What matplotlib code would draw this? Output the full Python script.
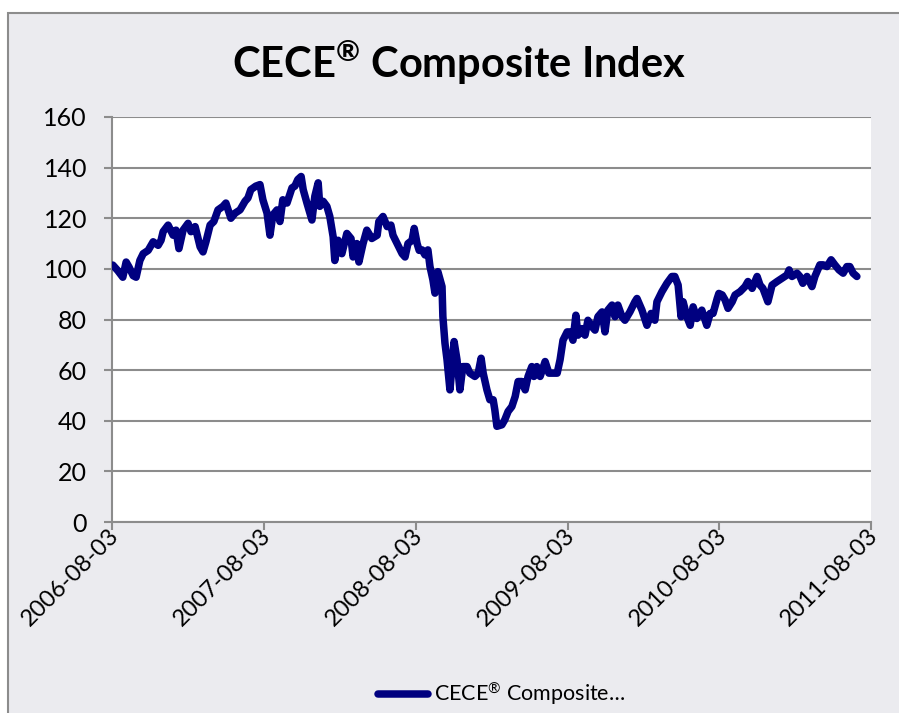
import numpy as np
import matplotlib
matplotlib.use("Agg")
import matplotlib.pyplot as plt
from matplotlib.patches import Rectangle
from matplotlib.transforms import ScaledTranslation

# ---- data ----
start_date = "2006-08-03"
days_since_start = [
    2, 14, 26, 34, 41, 51, 58, 67, 75, 87, 99, 111, 118, 123, 135, 147, 154, 161, 171, 183,
    190, 200, 212, 219, 226, 236, 245, 255, 267, 274, 286, 296, 308, 320, 327, 334, 346, 356,
    363, 373, 380, 387, 397, 404, 411, 421, 433, 440, 447, 455, 460, 469, 481, 488, 496, 500,
    508, 517, 524, 532, 536, 544, 553, 565, 575, 580, 589, 594, 604, 613, 625, 638, 642, 652,
    662, 671, 676, 686, 698, 705, 712, 722, 727, 734, 739, 746, 753, 760, 765, 772, 777, 784,
    794, 796, 801, 806, 813, 818, 823, 830, 837, 844, 854, 861, 873, 881, 888, 893, 902, 909,
    917, 921, 926, 938, 945, 953, 962, 970, 977, 986, 994, 1001, 1010, 1015, 1022, 1030, 1042,
    1051, 1061, 1071, 1078, 1085, 1095, 1102, 1109, 1116, 1121, 1131, 1138, 1145, 1155, 1162,
    1169, 1179, 1186, 1193, 1203, 1210, 1217, 1227, 1234, 1246, 1258, 1263, 1275, 1287, 1297,
    1306, 1311, 1323, 1335, 1347, 1354, 1362, 1369, 1374, 1383, 1391, 1398, 1407, 1419, 1431,
    1439, 1446, 1456, 1460, 1468, 1475, 1482, 1492, 1499, 1511, 1523, 1530, 1540, 1552, 1559,
    1566, 1578, 1588, 1600, 1612, 1624, 1629, 1636, 1648, 1655, 1662, 1672, 1684, 1691, 1703,
    1711, 1720, 1730, 1739, 1749, 1759, 1768, 1775, 1783, 1792,
]
index_values = [
    101.5, 99.3, 96.7, 102.7, 100.7, 97.3, 96.7, 103.3, 106, 107.3, 110.7, 109.3, 111.3, 114.7,
    117.3, 113.3, 115.3, 108, 115.3, 118, 114.7, 116.7, 108.7, 106.7, 110.7, 117.3, 118.7, 123.3,
    124.7, 126, 120, 122, 123.3, 126.7, 128, 131.3, 132.7, 133.3, 127.3, 122, 113.3, 121.3,
    123.3, 118.7, 127.3, 126, 132, 132.7, 135.3, 136.5, 131.3, 126, 119.3, 128.7, 134, 124.7,
    126.7, 124.7, 120.7, 112.7, 103.3, 111.3, 106, 114, 112, 104.7, 110, 102.7, 110, 115.3,
    112, 113.3, 118.7, 120.7, 116.7, 117.3, 113.3, 110, 106, 104.7, 110, 111.3, 116, 110,
    107.3, 107.5, 105.5, 107.5, 100.9, 95.7, 90.4, 98.9, 93, 81.2, 70.7, 64.1, 52.2, 61.4,
    71.3, 64.1, 52.2, 61.4, 61.4, 58.8, 57.5, 58.8, 64.7, 58.8, 52.2, 48.3, 48.3, 44.3, 37.8,
    38.4, 40.4, 43.7, 45.6, 49.6, 55.5, 55.5, 52.2, 57.5, 61.4, 57.5, 61.4, 57.5, 63.4, 58.8,
    58.8, 58.8, 64.1, 71.8, 75.1, 75.1, 71.8, 81.7, 73.8, 76.4, 73.8, 79.7, 77.1, 75.8, 81.1,
    83, 75.1, 83.7, 85.7, 81.1, 85.7, 81.1, 79.7, 83, 87, 88.3, 83.7, 77.7, 82.4, 79.7, 87,
    91, 94.3, 97, 97, 93.6, 81.1, 87, 81.1, 77.7, 85, 80.4, 83.7, 77.7, 82.4, 82.4, 88.3,
    90.3, 89.7, 87.7, 84.4, 87, 89.7, 91, 93, 95, 92.3, 97, 93.6, 92.3, 87, 93.6, 95, 96.3,
    97.6, 99.6, 97, 98.3, 97, 94.3, 97, 93, 97, 101.6, 101.6, 100.9, 103.6, 101.6, 99.6,
    98.3, 100.9, 100.9, 98.3, 97,
]
x_tick_labels = ["2006-08-03", "2007-08-03", "2008-08-03", "2009-08-03", "2010-08-03", "2011-08-03"]
y_ticks = [0, 20, 40, 60, 80, 100, 120, 140, 160]
series_name = r"CECE$^{\mathregular{®}}$ Composite…"
chart_title = r"CECE$^{\mathbf{®}}$ Composite Index"

# ---- figure ----
plt.rcParams['font.family'] = ['Lato', 'DejaVu Sans']
plt.rcParams['mathtext.fontset'] = 'custom'
plt.rcParams['mathtext.rm'] = 'Lato'
plt.rcParams['mathtext.bf'] = 'Lato:bold'
plt.rcParams['mathtext.it'] = 'Lato:italic'
W, H = 899, 713
fig = plt.figure(figsize=(W / 100, H / 100), dpi=100)
fig.patch.set_facecolor("white")

bg = Rectangle((8 / W, -0.05), 1.2, (1 - 13 / H) + 0.05, transform=fig.transFigure,
               facecolor="#EBEBEF", edgecolor="#8C8C8C", linewidth=1.5, zorder=-10)
fig.patches.append(bg)

ax = fig.add_axes([112 / W, 1 - 522 / H, (871 - 112) / W, (522 - 117) / H])
ax.set_facecolor("white")
ax.set_zorder(1)

dates = np.datetime64(start_date) + np.array(days_since_start).astype("timedelta64[D]")
ax.plot(dates, index_values, color="#000080", linewidth=5.4, solid_joinstyle="round",
        solid_capstyle="round", label=series_name, zorder=3)

tick_dates = np.array(x_tick_labels, dtype="datetime64[D]")
ax.set_xlim(tick_dates[0], tick_dates[-1])
ax.set_ylim(0, 160)
ax.set_yticks(y_ticks)
ax.set_yticklabels([str(v) for v in y_ticks], fontsize=18)
ax.set_xticks(tick_dates)
ax.set_xticklabels(x_tick_labels, rotation=45, ha="right", va="center",
                   rotation_mode="anchor", fontsize=17)

ax.grid(axis="y", color="#8C8C8C", linewidth=1.5, zorder=1)
ax.set_axisbelow(True)
for s in ["top", "right"]:
    ax.spines[s].set_visible(False)
for s in ["left", "bottom"]:
    ax.spines[s].set_color("#8C8C8C")
    ax.spines[s].set_linewidth(1.5)
ax.tick_params(axis="both", colors="#8C8C8C", length=6, width=1.5, labelcolor="black")
ax.tick_params(axis="y", pad=12)
ax.tick_params(axis="x", pad=4)

offset = ScaledTranslation(4 / 100, 4 / 100, fig.dpi_scale_trans)
for lbl in ax.get_xticklabels():
    lbl.set_transform(lbl.get_transform() + offset)

fig.text(459 / W, 1 - 63 / H, chart_title, ha="center", va="center",
         fontsize=30, fontweight="bold")

fig.legend(loc="center", bbox_to_anchor=(502 / W, 1 - 694 / H), frameon=False,
           fontsize=15.5, handlelength=2.3, handletextpad=0.3)

fig.savefig("out.png", dpi=100)
